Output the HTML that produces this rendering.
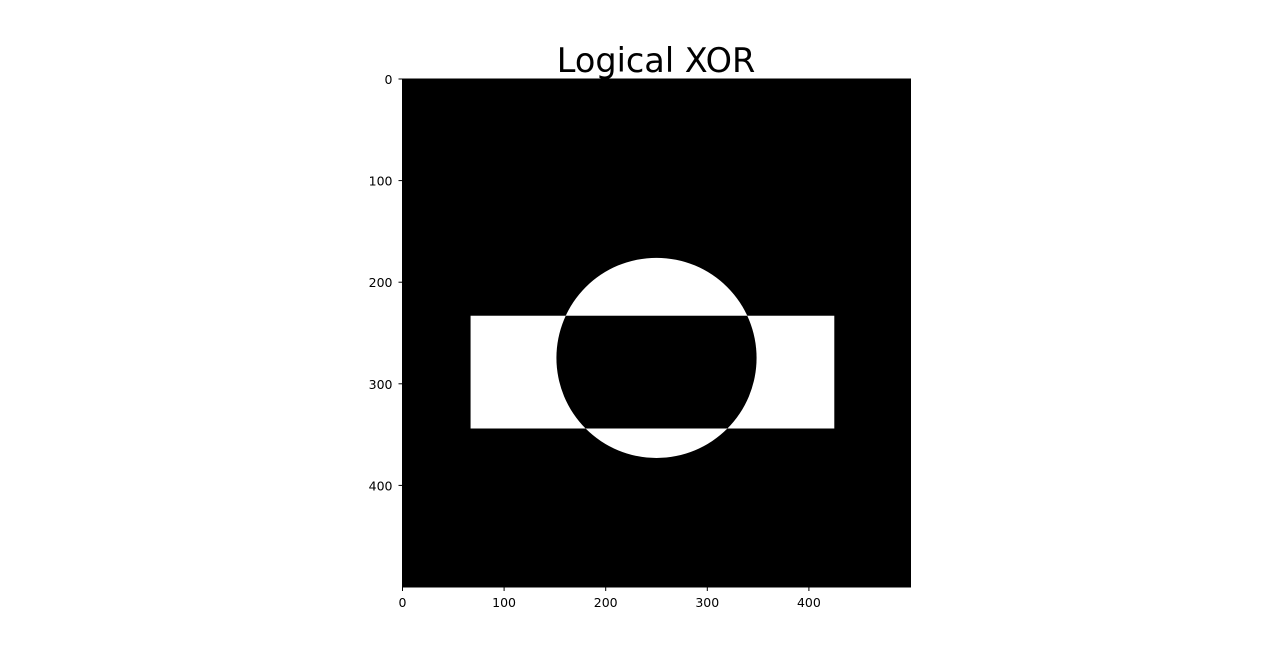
<!DOCTYPE html>
<html><head><meta charset="utf-8"><style>
html,body{margin:0;padding:0;background:#fff;}
svg{display:block;font-family:"DejaVu Sans","Liberation Sans",sans-serif;}
</style></head><body>
<svg id="chart" width="1280" height="660" viewBox="0 0 1280 660">
<text x="656" y="72" text-anchor="middle" font-size="33.5" fill="#000">Logical XOR</text>
<g id="plot"></g>
<g id="axes"></g>
</svg>
<script>
const imageSize = [500, 500];
const circleCenter = [250, 274.5];
const circleRadius = [98.5];
const rectBounds = [67, 233, 425, 344]; // x0, y0, x1, y1
const xTicks = [0, 100, 200, 300, 400];
const yTicks = [0, 100, 200, 300, 400];

const NS = "http://www.w3.org/2000/svg";
const X0 = 402.5, Y0 = 79, SCALE = 508 / 500;
const sx = v => X0 + v * SCALE;
const sy = v => Y0 + v * SCALE;
function mk(tag, attrs, parent) {
  const e = document.createElementNS(NS, tag);
  for (const k in attrs) e.setAttribute(k, attrs[k]);
  parent.appendChild(e);
  return e;
}
const plot = document.getElementById('plot');
const axes = document.getElementById('axes');

const defs = mk('defs', {}, plot);
const clip = mk('clipPath', {id: 'circClip'}, defs);
mk('circle', {cx: sx(circleCenter[0]), cy: sy(circleCenter[1]), r: circleRadius[0] * SCALE}, clip);

const bg = mk('rect', {x: sx(0), y: sy(0), width: imageSize[0] * SCALE, height: imageSize[1] * SCALE, fill: '#000'}, plot);



const circ = mk('circle', {cx: sx(circleCenter[0]), cy: sy(circleCenter[1]), r: circleRadius[0] * SCALE, fill: '#fff'}, plot);



const rect = mk('rect', {x: sx(rectBounds[0]), y: sy(rectBounds[1]), width: (rectBounds[2] - rectBounds[0]) * SCALE, height: (rectBounds[3] - rectBounds[1]) * SCALE, fill: '#fff'}, plot);



const inter = mk('rect', {x: sx(rectBounds[0]), y: sy(rectBounds[1]), width: (rectBounds[2] - rectBounds[0]) * SCALE, height: (rectBounds[3] - rectBounds[1]) * SCALE, fill: '#000', 'clip-path': 'url(#circClip)'}, plot);



const frame = mk('rect', {x: sx(0), y: sy(0), width: imageSize[0] * SCALE, height: imageSize[1] * SCALE, fill: 'none', stroke: '#000', 'stroke-width': 1}, axes);



xTicks.forEach(t => {
  const x = sx(t), yb = sy(imageSize[1]);
  const l = mk('line', {x1: x, x2: x, y1: yb, y2: yb + 4, stroke: '#000', 'stroke-width': 1}, axes);
  
  
  const tx = mk('text', {x: x, y: yb + 20, 'text-anchor': 'middle', 'font-size': 12.5}, axes);
  tx.textContent = t;
  
  
});
yTicks.forEach(t => {
  const y = sy(t), xl = sx(0);
  const l = mk('line', {x1: xl - 4, x2: xl, y1: y, y2: y, stroke: '#000', 'stroke-width': 1}, axes);
  
  
  const tx = mk('text', {x: xl - 10, y: y + 5, 'text-anchor': 'end', 'font-size': 12.5}, axes);
  tx.textContent = t;
  
  
});
</script>
</body></html>
